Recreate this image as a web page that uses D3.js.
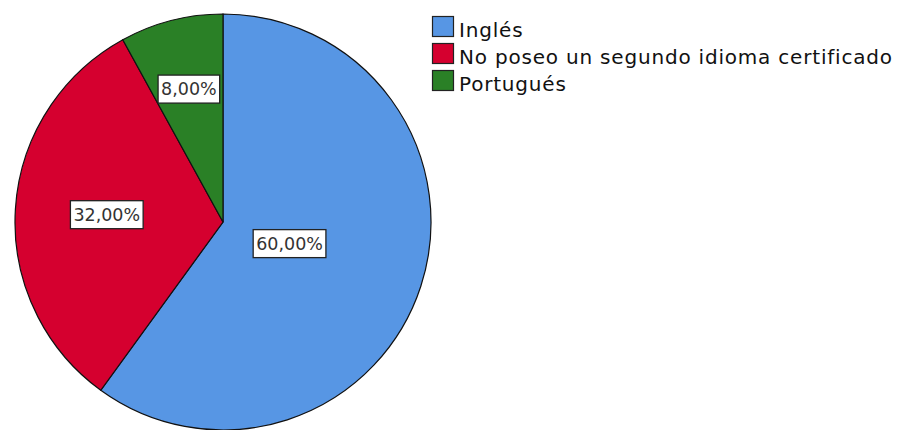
<html>
<head>
	<style type="text/css">
		body{ margin:0; background:#fff; }
		svg{ display:block; }
		text{ font-family:"DejaVu Sans", sans-serif; }
	</style>
	<script src="https://cdnjs.cloudflare.com/ajax/libs/d3/7.8.5/d3.min.js"></script>
</head>
<body>
	<svg id="svg" width="901" height="430"></svg>
	<script type="text/javascript">

		var categories = ["Inglés", "No poseo un segundo idioma certificado", "Portugués"];
		var values = [60, 32, 8];
		var colors = ["#5796e4", "#d5002f", "#2a8026"];

		var cx = 223, cy = 222, radius = 208;

		var svg = d3.select("#svg");
		var g = svg.append("g").attr("transform", "translate(" + cx + "," + cy + ")");

		var data = categories.map(function(c, i){ return {name:c, value:values[i], color:colors[i]}; });
		var pie = d3.pie().sort(null).value(function(d){ return d.value; });
		var arcs = pie(data);
		var arc = d3.arc().innerRadius(0).outerRadius(radius);

		g.selectAll("path").data(arcs).enter().append("path")
			.attr("d", arc)
			.style("fill", function(d){ return d.data.color; })
			.style("stroke", "#111")
			.style("stroke-width", 1.2);

		//labels at the centroid of each sector
		var fmt = function(v){ return v.toFixed(2).replace(".", ",") + "%"; };
		var labels = g.selectAll("g.lbl").data(arcs).enter().append("g")
			.attr("class", "lbl")
			.attr("transform", function(d){
				var half = (d.endAngle - d.startAngle) / 2;
				var mid = d.startAngle + half;
				var dist = 2 * radius * Math.sin(half) / (3 * half);
				return "translate(" + (Math.sin(mid) * dist) + "," + (-Math.cos(mid) * dist) + ")";
			});

		labels.append("text")
			.attr("text-anchor", "middle")
			.attr("dy", "0.36em")
			.style("font-size", "17.5px")
			.style("fill", "#333")
			.text(function(d){ return fmt(d.data.value); });

		labels.each(function(){
			var t = d3.select(this).select("text");
			var b = t.node().getBBox();
			d3.select(this).insert("rect", "text")
				.attr("x", b.x - 3).attr("y", -14)
				.attr("width", b.width + 6).attr("height", 28)
				.style("fill", "#fff")
				.style("stroke", "#222")
				.style("stroke-width", 1.3);
		});

		//legend
		var legend = svg.append("g").attr("transform", "translate(432,16)");
		var rows = legend.selectAll("g").data(data).enter().append("g")
			.attr("transform", function(d, i){ return "translate(0," + (i * 27) + ")"; });
		rows.append("rect")
			.attr("x", 0.5).attr("y", 0.5)
			.attr("width", 21).attr("height", 20)
			.style("fill", function(d){ return d.color; })
			.style("stroke", "#222")
			.style("stroke-width", 1.2);
		rows.append("text")
			.attr("x", 27).attr("y", 21)
			.style("font-size", "20px")
			.style("letter-spacing", "0.8px")
			.style("fill", "#111")
			.text(function(d){ return d.name; });

	</script>
</body>
</html>
